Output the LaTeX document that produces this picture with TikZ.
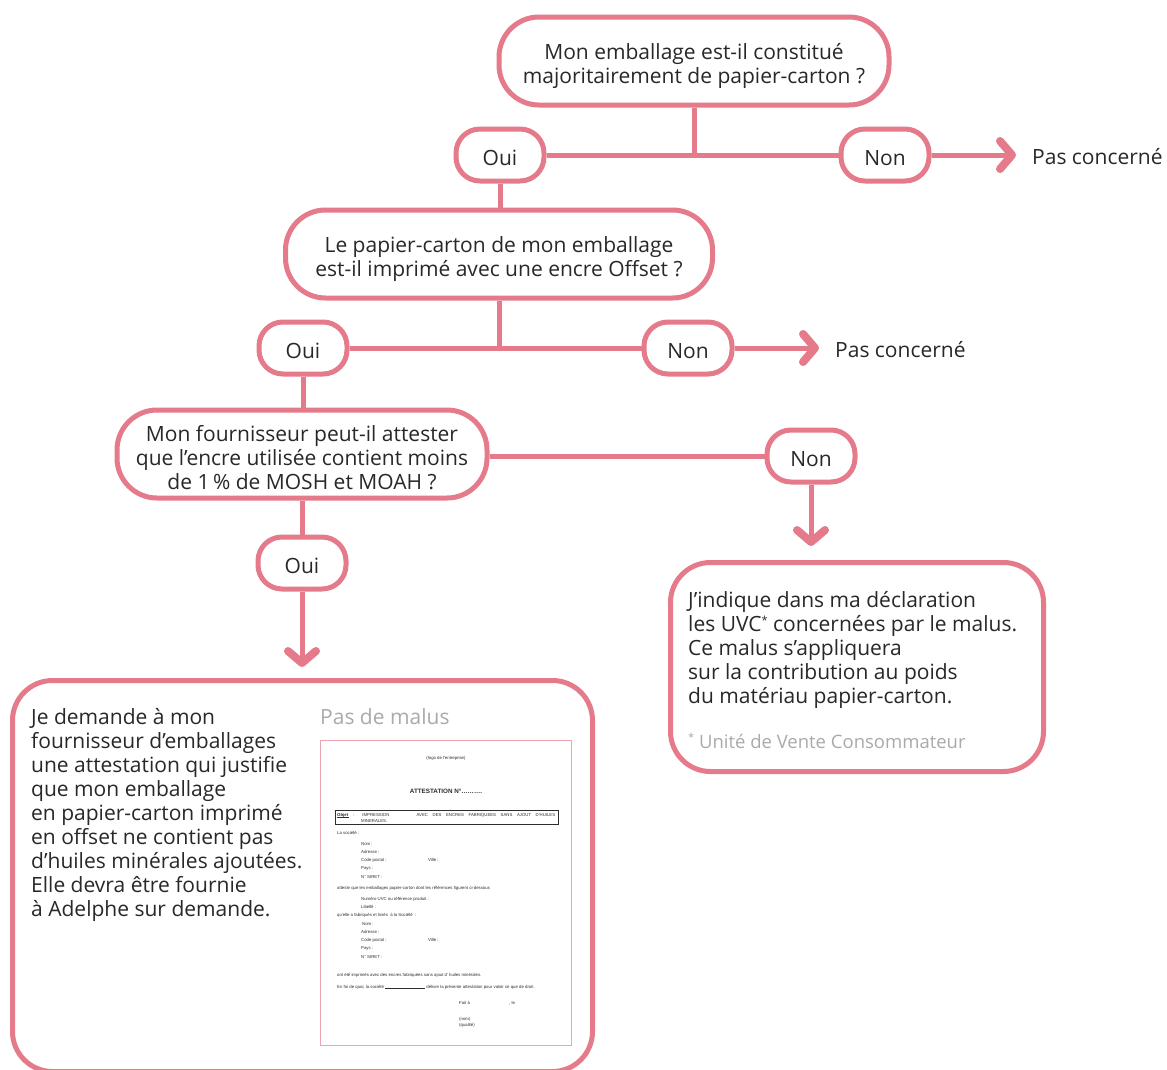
\documentclass[tikz,border=0pt]{standalone}
\usepackage{fontspec}
\setmainfont{Open Sans}
\newfontfamily\docfont{Liberation Sans}
\definecolor{pk}{RGB}{229,122,138}
\definecolor{txt}{RGB}{40,40,40}
\definecolor{lg}{RGB}{170,170,170}
\definecolor{docpk}{RGB}{238,165,178}
\definecolor{dtx}{RGB}{45,45,45}
\newcommand{\smallstar}{{\fontsize{11}{11}\selectfont\raisebox{7pt}{*}}}
\newcommand{\topgap}{\rule{0pt}{27pt}}
\begin{document}
\begin{tikzpicture}[x=1pt,y=-1pt,
  every node/.style={text=txt},
  q/.style={draw=pk, line width=5pt, rounded corners=40pt, align=center,
    font=\fontsize{21}{24}\selectfont, minimum height=88pt, inner sep=0pt},
  pill/.style={draw=pk, line width=5pt, rounded corners=24pt, minimum width=88pt,
    minimum height=52pt, font=\fontsize{21}{24}\selectfont, inner sep=0pt,
    execute at begin node={\rule{0pt}{21pt}}},
  bigbox/.style={draw=pk, line width=5pt, rounded corners=40pt, inner sep=0pt},
  conn/.style={draw=pk, line width=5pt},
  chev/.style={draw=pk, line width=8pt, line cap=round, line join=round},
  lbl/.style={font=\fontsize{21}{24}\selectfont, inner sep=0pt},
  dt/.style={font=\docfont\fontsize{4.3}{5}\selectfont, inner sep=0pt, anchor=base west, text=dtx},
]
\fill[white] (0,0) rectangle (1167,1069);
\useasboundingbox (0,0) rectangle (1167,1069);

% question boxes and pills
\node[q, minimum width=390pt] (b1) at (694,61) {\topgap Mon emballage est-il constitué\\majoritairement de papier-carton ?};
\node[pill] (o1) at (500,155) {Oui};
\node[pill] (n1) at (885,155) {Non};
\node[lbl, anchor=west] (p1) at (1032,157) {Pas concerné};

\node[q, minimum width=427pt] (b2) at (499,254) {\topgap Le papier-carton de mon emballage\\est-il imprimé avec une encre Offset ?};
\node[pill] (o2) at (303,348) {Oui};
\node[pill] (n2) at (688,348) {Non};
\node[lbl, anchor=west] (p2) at (835,350) {Pas concerné};

\node[q, minimum width=370pt] (b3) at (302,454) {\rule{0pt}{23pt}Mon fournisseur peut-il attester\\que l’encre utilisée contient moins\\de 1\,\% de MOSH et MOAH ?};
\node[pill] (n3) at (811,456) {Non};
\node[pill] (o3) at (302,563) {Oui};

% result boxes
\node[bigbox, minimum width=373pt, minimum height=209pt] (b4) at (857,667) {};
\node[lbl, align=left, anchor=north west] (t4) at (688,591) {J’indique dans ma déclaration\\les UVC\smallstar{} concernées par le malus.\\Ce malus s’appliquera\\sur la contribution au poids\\du matériau papier-carton.};
\node[lbl, anchor=west, text=lg, font=\fontsize{18.5}{22}\selectfont] (f4) at (688,741) {\smallstar{} Unité de Vente Consommateur};

\node[bigbox, minimum width=580pt, minimum height=391pt] (b5) at (302.5,876) {};
\node[lbl, align=left, anchor=north west] (t5) at (31,708) {Je demande à mon\\fournisseur d'emballages\\une attestation qui justifie\\que mon emballage\\en papier-carton imprimé\\en offset ne contient pas\\d'huiles minérales ajoutées.\\Elle devra être fournie\\à Adelphe sur demande.};
\node[lbl, anchor=west, text=lg] (pm) at (320,717) {Pas de malus};

% arrow end points
\coordinate (e1) at ([xshift=-20pt]p1.west |- n1.east);
\coordinate (e2) at ([xshift=-20pt]p2.west |- n2.east);
\coordinate (e3) at ([yshift=18pt]n3.south |- b4.north);
\coordinate (e4) at ([yshift=15pt]o3.south |- b5.north);

% connectors
\draw[conn] (o1.east) -- (n1.west);
\draw[conn] (b1.south) -- (b1.south |- o1.east);
\draw[conn] (n1.east) -- (e1);
\draw[conn] (o1.south) -- (o1.south |- b2.north);
\draw[conn] (o2.east) -- (n2.west);
\draw[conn] (b2.south) -- (b2.south |- o2.east);
\draw[conn] (n2.east) -- (e2);
\draw[conn] (o2.south) -- (o2.south |- b3.north);
\draw[conn] (n3.west -| b3.east) -- (n3.west);
\draw[conn] (n3.south) -- (e3);
\draw[conn] (b3.south) -- (b3.south |- o3.north);
\draw[conn] (o3.south) -- (e4);

% chevron arrowheads
\draw[chev] ([shift={(-12,-14)}]e1) -- (e1) -- ([shift={(-12,14)}]e1);
\draw[chev] ([shift={(-12,-14)}]e2) -- (e2) -- ([shift={(-12,14)}]e2);
\draw[chev] ([shift={(-14,-12)}]e3) -- (e3) -- ([shift={(14,-12)}]e3);
\draw[chev] ([shift={(-14,-12)}]e4) -- (e4) -- ([shift={(14,-12)}]e4);

% attestation document
\node[draw=docpk, line width=1pt, minimum width=251pt, minimum height=305pt, inner sep=0pt] (doc) at (445.5,892.5) {};
\node[dt, anchor=base] (d0) at (446,759) {(logo de l'entreprise)};
\node[dt, anchor=base, font=\docfont\bfseries\fontsize{6.3}{7}\selectfont] (d1) at (446,793) {ATTESTATION N°……….};
\node[draw=dtx, line width=0.6pt, minimum width=223pt, minimum height=14pt, inner sep=0pt] (obj) at (446.5,817.5) {};
\node[dt] (d2) at (337,816.5) {\makebox[218pt][s]{\textbf{Objet} : IMPRESSION \hspace{18pt} AVEC DES ENCRES FABRIQUEES SANS AJOUT D'HUILES}};
\draw[dtx, line width=0.4pt] (337,817.5) -- (349,817.5);
\node[dt] (d3) at (361,822) {MINERALES.};
\node[dt] (d4) at (337,834) {La société :};
\node[dt] (d5) at (361,845) {Nom :};
\node[dt] (d6) at (361,853) {Adresse :};
\node[dt] (d7) at (361,861) {Code postal :};
\node[dt] (d8) at (428,861) {Ville :};
\node[dt] (d9) at (361,869) {Pays :};
\node[dt] (d10) at (361,878) {N° SIRET :};
\node[dt] (d11) at (337,889) {atteste que les emballages papier-carton dont les références figurent ci-dessous};
\node[dt] (d12) at (361,900) {Numéro UVC ou référence produit :};
\node[dt] (d13) at (361,908) {Libellé :};
\node[dt] (d14) at (337,916) {qu'elle a fabriqués et livrés \ à la Société \ :};
\node[dt] (d15) at (362,925) {Nom :};
\node[dt] (d16) at (361,933) {Adresse :};
\node[dt] (d17) at (361,941) {Code postal :};
\node[dt] (d18) at (428,941) {Ville :};
\node[dt] (d19) at (361,949) {Pays :};
\node[dt] (d20) at (361,958) {N° SIRET :};
\node[dt] (d21) at (337,976) {ont été imprimés avec des encres fabriquées sans ajout d' huiles minérales.};
\node[dt] (d22) at (337,988) {En foi de quoi, la société \rule{40pt}{0.5pt} délivre la présente attestation pour valoir ce que de droit.};
\node[dt] (d23) at (459,1004) {Fait à};
\node[dt] (d24) at (509,1004) {, le};
\node[dt] (d25) at (459,1020) {(nom)};
\node[dt] (d26) at (459,1026) {(qualité)};
\end{tikzpicture}
\end{document}
